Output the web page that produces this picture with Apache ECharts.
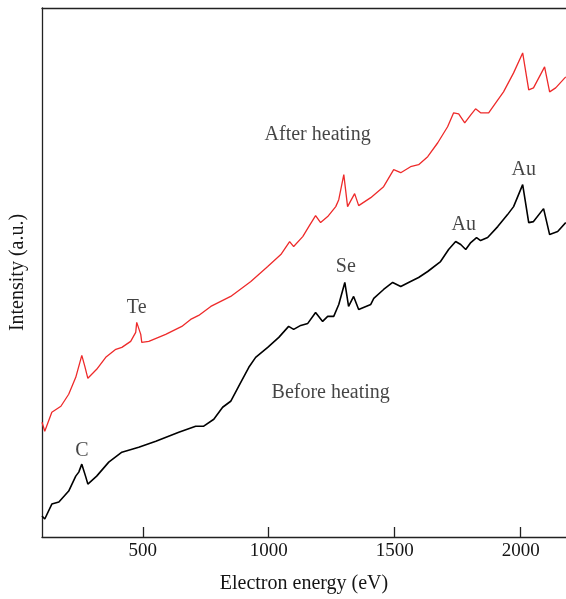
<!DOCTYPE html>
<html>
<head>
<meta charset="utf-8">
<script src="https://cdn.jsdelivr.net/npm/echarts@6/dist/echarts.min.js"></script>
<style>
html,body{margin:0;padding:0;background:#fff;}
#chart{width:566px;height:599px;}
</style>
</head>
<body>
<div id="chart"></div>
<script>
// Electron energy (eV) and intensity (a.u., arbitrary offset units)
const beforeEnergy = [100,103,111,139,167,206,234,246,258,274,282,317,365,417,484,552,643,710,742,782,817,849,889,921,948,996,1040,1079,1099,1127,1155,1186,1214,1234,1258,1278,1302,1317,1337,1357,1405,1417,1456,1492,1524,1563,1595,1631,1682,1714,1742,1762,1782,1802,1825,1841,1869,1909,1948,1972,2008,2032,2051,2091,2115,2147,2179];
const beforeIntensity = [21,20,18,33,35,46,61,65,73,60,53,61,75,85,90,96,105,111,111,118,130,136,155,170,180,190,200,211,208,212,214,225,216,221,221,233,255,231,241,228,233,239,248,255,251,256,260,266,276,288,296,293,288,295,300,297,300,311,323,331,353,315,316,329,303,306,315];

const afterEnergy = [100,111,139,175,206,234,258,270,282,317,353,393,417,452,472,476,492,496,524,591,655,690,722,770,849,929,996,1048,1083,1099,1135,1159,1186,1206,1234,1266,1278,1298,1313,1341,1357,1405,1456,1496,1524,1563,1595,1631,1671,1710,1734,1754,1778,1802,1821,1841,1873,1901,1932,1972,2008,2032,2051,2095,2115,2139,2179];
const afterIntensity = [115,106,125,131,143,160,182,171,159,168,180,188,190,196,205,215,203,195,196,203,211,218,222,231,241,256,271,283,296,291,301,311,322,315,321,331,338,363,331,344,332,340,351,368,365,371,373,381,395,411,425,424,415,423,429,425,425,435,446,465,485,448,450,471,446,450,461];

const xTicks = [500,1000,1500,2000];

// annotation labels: [energy, intensity, text]
const annotations = [
  [258, 86, 'C'],
  [476, 230, 'Te'],
  [1306, 271, 'Se'],
  [1774, 313, 'Au'],
  [2012, 368, 'Au'],
  [1194, 403, 'After heating'],
  [1246, 145, 'Before heating']
];

const zip = (a,b) => a.map((v,i)=>[v,b[i]]);
const font = 'Liberation Serif';
const txt = '#151515';

const chart = echarts.init(document.getElementById('chart'), null, {renderer:'canvas'});
chart.setOption({
  animation:false,
  backgroundColor:'#fff',
  grid:{left:41, right:0, top:8, bottom:61, containLabel:false},
  xAxis:[{
    type:'value', min:100, max:2180, position:'bottom',
    name:'Electron energy (eV)', nameLocation:'middle', nameGap:37,
    nameTextStyle:{fontFamily:font, fontSize:20, color:txt},
    axisLine:{show:true, lineStyle:{color:'#222', width:1.3}},
    axisTick:{show:true, inside:true, length:10, customValues:xTicks, lineStyle:{color:'#222', width:1.3}},
    axisLabel:{show:true, customValues:xTicks, margin:5, fontFamily:font, fontSize:19, color:txt,
               formatter:v=>String(v)},
    splitLine:{show:false}
  },{
    type:'value', min:100, max:2180, position:'top',
    axisLine:{show:true, onZero:false, lineStyle:{color:'#222', width:1.3}},
    axisTick:{show:false}, axisLabel:{show:false}, splitLine:{show:false}
  }],
  yAxis:{
    type:'value', min:0, max:530,
    name:'Intensity (a.u.)', nameLocation:'middle', nameGap:14, nameRotate:90,
    nameTextStyle:{fontFamily:font, fontSize:20, color:txt},
    axisLine:{show:true, lineStyle:{color:'#222', width:1.3}},
    axisTick:{show:false}, axisLabel:{show:false}, splitLine:{show:false}
  },
  series:[
    {type:'line', data:zip(afterEnergy, afterIntensity), showSymbol:false, symbol:'none',
     lineStyle:{color:'#ee2a2a', width:1.3}, z:3},
    {type:'line', data:zip(beforeEnergy, beforeIntensity), showSymbol:false, symbol:'none',
     lineStyle:{color:'#000', width:1.6}, z:3},
    {type:'scatter', data:annotations.map(a=>({value:[a[0],a[1]], name:a[2]})), symbolSize:0,
     silent:true,
     label:{show:true, position:'inside', formatter:p=>p.name, fontFamily:font, fontSize:20, color:txt}}
  ]
});
</script>
</body>
</html>
